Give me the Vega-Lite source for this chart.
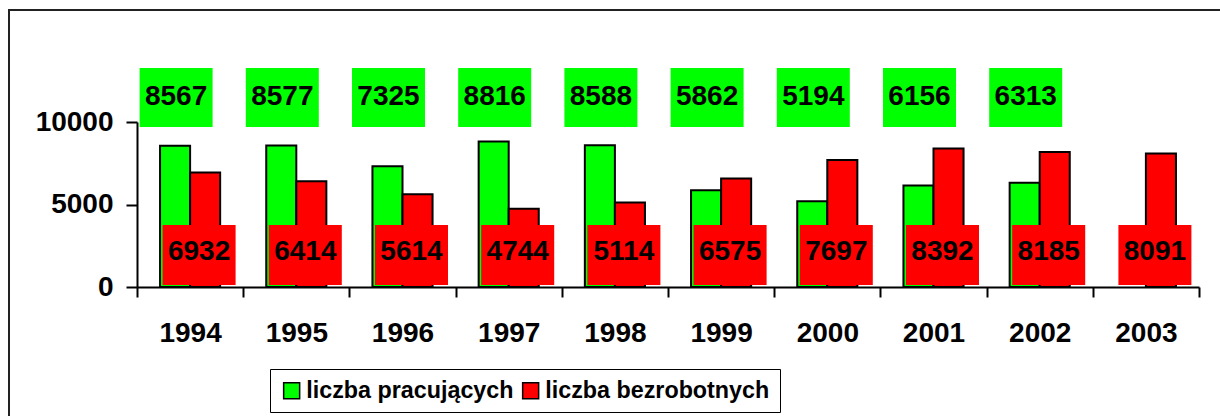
{
  "$schema": "https://vega.github.io/schema/vega-lite/v6.json",
  "autosize": {"type": "none"},
  "padding": {"left": 9, "top": 10, "right": -3, "bottom": -3},
  "width": 1214,
  "height": 409,
  "background": "white",
  "config": {
    "font": "Liberation Sans",
    "view": {"stroke": "#222222", "strokeWidth": 2}
  },
  "data": {
    "values": [
      {"rok": "1994", "seria": "liczba pracujących", "wartosc": 8567},
      {"rok": "1994", "seria": "liczba bezrobotnych", "wartosc": 6932},
      {"rok": "1995", "seria": "liczba pracujących", "wartosc": 8577},
      {"rok": "1995", "seria": "liczba bezrobotnych", "wartosc": 6414},
      {"rok": "1996", "seria": "liczba pracujących", "wartosc": 7325},
      {"rok": "1996", "seria": "liczba bezrobotnych", "wartosc": 5614},
      {"rok": "1997", "seria": "liczba pracujących", "wartosc": 8816},
      {"rok": "1997", "seria": "liczba bezrobotnych", "wartosc": 4744},
      {"rok": "1998", "seria": "liczba pracujących", "wartosc": 8588},
      {"rok": "1998", "seria": "liczba bezrobotnych", "wartosc": 5114},
      {"rok": "1999", "seria": "liczba pracujących", "wartosc": 5862},
      {"rok": "1999", "seria": "liczba bezrobotnych", "wartosc": 6575},
      {"rok": "2000", "seria": "liczba pracujących", "wartosc": 5194},
      {"rok": "2000", "seria": "liczba bezrobotnych", "wartosc": 7697},
      {"rok": "2001", "seria": "liczba pracujących", "wartosc": 6156},
      {"rok": "2001", "seria": "liczba bezrobotnych", "wartosc": 8392},
      {"rok": "2002", "seria": "liczba pracujących", "wartosc": 6313},
      {"rok": "2002", "seria": "liczba bezrobotnych", "wartosc": 8185},
      {"rok": "2003", "seria": "liczba bezrobotnych", "wartosc": 8091}
    ]
  },
  "encoding": {
    "x": {
      "field": "rok",
      "type": "nominal",
      "sort": null,
      "scale": {"range": [128, 1190], "paddingInner": 0, "paddingOuter": 0},
      "axis": {
        "title": null,
        "labelAngle": 0,
        "labelFontSize": 28,
        "labelFontWeight": "bold",
        "labelColor": "black",
        "labelPadding": 22,
        "domainColor": "black",
        "domainWidth": 2,
        "tickColor": "black",
        "tickWidth": 2,
        "tickSize": 10,
        "tickBand": "extent",
        "offset": -132
      }
    }
  },
  "layer": [
    {
      "mark": {"type": "bar", "stroke": "black", "strokeWidth": 2},
      "encoding": {
        "xOffset": {
          "field": "seria",
          "type": "nominal",
          "scale": {"domain": ["liczba pracujących", "liczba bezrobotnych"], "paddingInner": 0, "paddingOuter": 0.767}
        },
        "y": {
          "field": "wartosc",
          "type": "quantitative",
          "scale": {"domain": [0, 10000], "range": [277, 112], "nice": false},
          "axis": {
            "title": null,
            "values": [0, 5000, 10000],
            "format": "d",
            "grid": false,
            "labelFontSize": 28,
            "labelFontWeight": "bold",
            "labelColor": "black",
            "labelPadding": 13,
            "domainColor": "black",
            "domainWidth": 2,
            "tickColor": "black",
            "tickWidth": 2,
            "tickSize": 11,
            "offset": -128
          }
        },
        "color": {
          "field": "seria",
          "type": "nominal",
          "scale": {"domain": ["liczba pracujących", "liczba bezrobotnych"], "range": ["#00ff00", "#ff0000"]},
          "legend": {
            "title": null,
            "orient": "none",
            "legendX": 261,
            "legendY": 359,
            "direction": "horizontal",
            "strokeColor": "black",
            "padding": 10,
            "labelFontSize": 23.3,
            "labelFontWeight": "bold",
            "labelColor": "black",
            "labelLimit": 400,
            "labelOffset": 3,
            "columnPadding": 5,
            "symbolType": "square",
            "symbolSize": 256,
            "symbolStrokeColor": "black",
            "symbolStrokeWidth": 1.5,
            "symbolOpacity": 1
          }
        }
      }
    },
    {
      "transform": [{"filter": "datum.seria === 'liczba pracujących'"}],
      "mark": {"type": "bar", "width": 73, "xOffset": -14, "fill": "#00ff00", "stroke": null},
      "encoding": {
        "y": {"datum": 9700},
        "y2": {"datum": 13270}
      }
    },
    {
      "transform": [{"filter": "datum.seria === 'liczba pracujących'"}],
      "mark": {"type": "text", "dx": -14, "fontSize": 28, "fontWeight": "bold", "color": "black", "baseline": "middle", "align": "center"},
      "encoding": {
        "y": {"datum": 11500},
        "text": {"field": "wartosc", "type": "quantitative", "format": "d"}
      }
    },
    {
      "transform": [{"filter": "datum.seria === 'liczba bezrobotnych'"}],
      "mark": {"type": "bar", "width": 73, "xOffset": 9, "fill": "#ff0000", "stroke": null},
      "encoding": {
        "y": {"datum": 120},
        "y2": {"datum": 3760}
      }
    },
    {
      "transform": [{"filter": "datum.seria === 'liczba bezrobotnych'"}],
      "mark": {"type": "text", "dx": 9, "fontSize": 28, "fontWeight": "bold", "color": "black", "baseline": "middle", "align": "center"},
      "encoding": {
        "y": {"datum": 2120},
        "text": {"field": "wartosc", "type": "quantitative", "format": "d"}
      }
    }
  ]
}
